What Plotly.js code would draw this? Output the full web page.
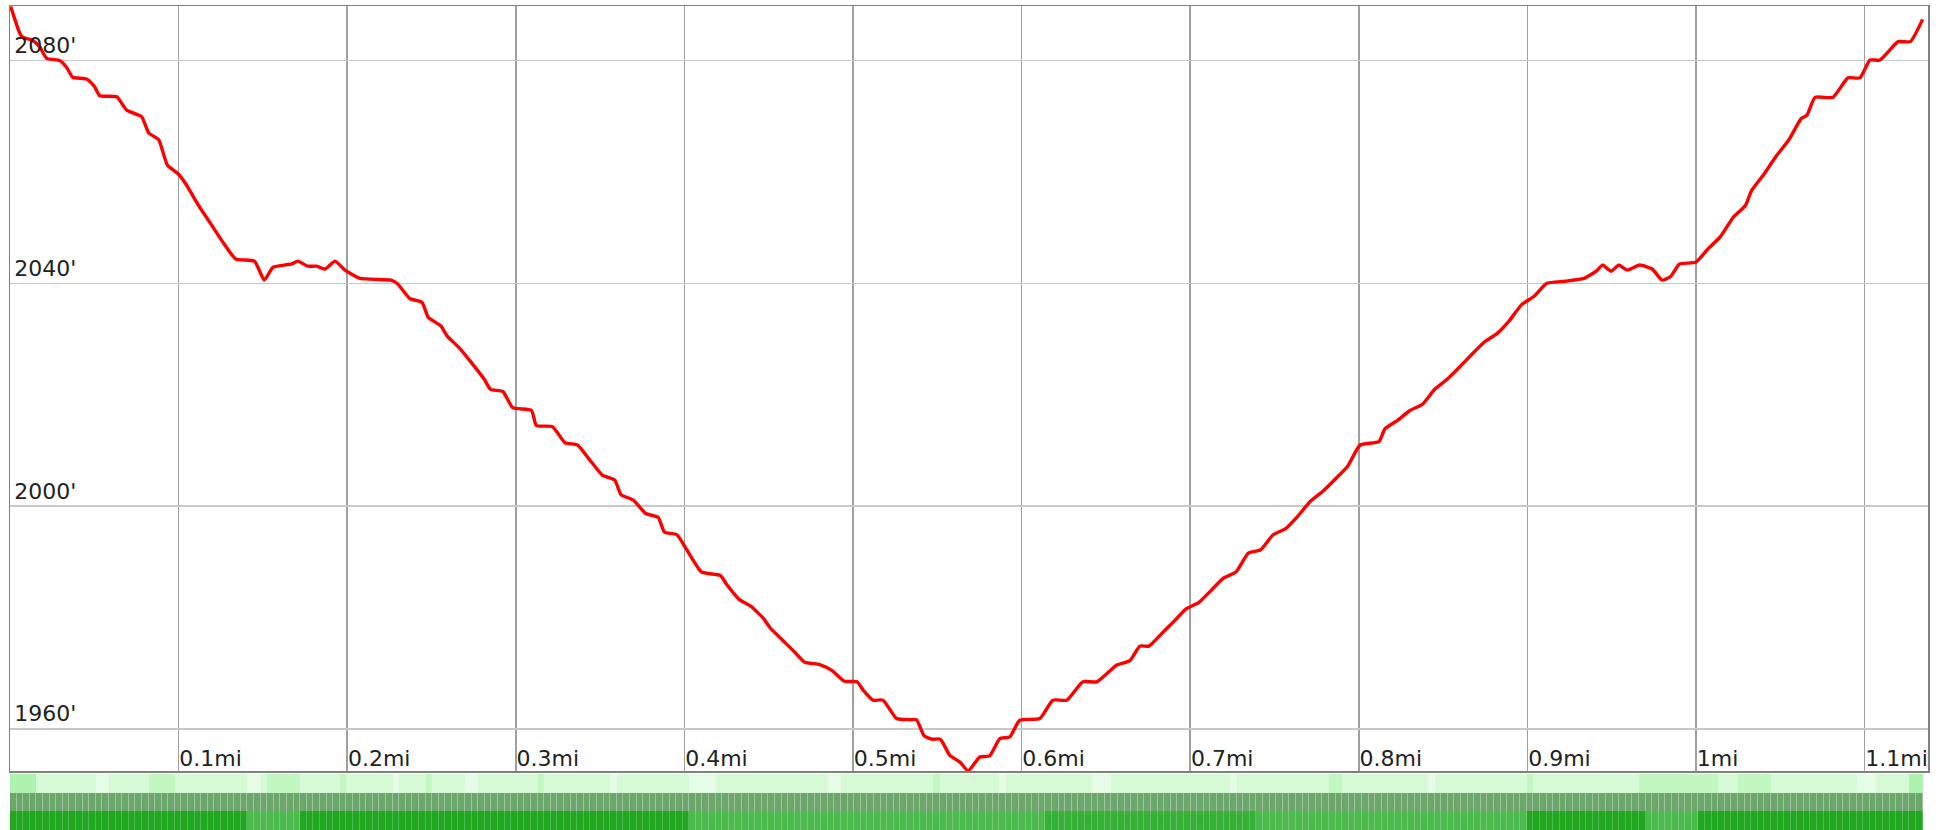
<!DOCTYPE html>
<html>
<head>
<meta charset="utf-8">
<script src="https://cdn.plot.ly/plotly-3.0.1.min.js"></script>
<style>
  html, body { margin: 0; padding: 0; background: #ffffff; }
  #chart { width: 1948px; height: 830px; }
</style>
</head>
<body>
<div id="chart"></div>
<script>
// ---------- Elevation profile (distance in miles, elevation in feet) ----------
const distMi = [
  0.0004, 0.0058, 0.0075, 0.0135, 0.0175, 0.0218, 0.0295, 0.0335, 0.0372, 0.0455,
  0.0500, 0.0532, 0.0633, 0.0692, 0.0781, 0.0823, 0.0882, 0.0934, 0.1000, 0.1044,
  0.1118, 0.1191, 0.1265, 0.1339, 0.1450, 0.1508, 0.1560, 0.1671, 0.1707, 0.1766,
  0.1818, 0.1869, 0.1928, 0.1987, 0.2076, 0.2260, 0.2297, 0.2371, 0.2444, 0.2481,
  0.2555, 0.2592, 0.2666, 0.2739, 0.2813, 0.2850, 0.2923, 0.2982, 0.3093, 0.3122,
  0.3218, 0.3292, 0.3366, 0.3439, 0.3513, 0.3587, 0.3624, 0.3697, 0.3771, 0.3845,
  0.3881, 0.3955, 0.4014, 0.4102, 0.4213, 0.4250, 0.4324, 0.4397, 0.4471, 0.4508,
  0.4581, 0.4655, 0.4714, 0.4803, 0.4876, 0.4950, 0.5024, 0.5060, 0.5119, 0.5178,
  0.5258, 0.5336, 0.5376, 0.5422, 0.5468, 0.5518, 0.5574, 0.5634, 0.5683, 0.5752,
  0.5810, 0.5871, 0.5930, 0.5989, 0.6108, 0.6185, 0.6268, 0.6363, 0.6446, 0.6565,
  0.6642, 0.6701, 0.6755, 0.6829, 0.6902, 0.6976, 0.7050, 0.7124, 0.7197, 0.7271,
  0.7345, 0.7418, 0.7492, 0.7566, 0.7640, 0.7713, 0.7787, 0.7861, 0.7934, 0.8008,
  0.8119, 0.8155, 0.8229, 0.8303, 0.8377, 0.8450, 0.8524, 0.8598, 0.8671, 0.8745,
  0.8819, 0.8892, 0.8966, 0.9040, 0.9113, 0.9224, 0.9334, 0.9408, 0.9445, 0.9497,
  0.9541, 0.9593, 0.9666, 0.9740, 0.9799, 0.9851, 0.9902, 0.9998, 1.0071, 1.0145,
  1.0219, 1.0293, 1.0330, 1.0403, 1.0477, 1.0551, 1.0624, 1.0658, 1.0706, 1.0812,
  1.0901, 1.0972, 1.1032, 1.1091, 1.1199, 1.1271, 1.1344
];
const elevFt = [
  2089.7, 2084.9, 2084.2, 2083.6, 2082.5, 2080.4, 2080.0, 2078.8, 2077.0, 2076.7,
  2075.4, 2073.7, 2073.5, 2071.1, 2069.9, 2067.0, 2065.8, 2061.2, 2059.6, 2057.8,
  2054.0, 2050.7, 2047.3, 2044.4, 2044.0, 2040.6, 2042.9, 2043.5, 2044.0, 2043.1,
  2043.1, 2042.6, 2044.0, 2042.4, 2040.9, 2040.6, 2040.0, 2037.3, 2036.6, 2033.9,
  2032.4, 2030.6, 2028.4, 2025.7, 2022.8, 2021.0, 2020.6, 2017.7, 2017.2, 2014.5,
  2014.3, 2011.4, 2011.0, 2008.3, 2005.6, 2004.7, 2002.1, 2001.1, 1998.7, 1998.0,
  1995.4, 1994.9, 1992.2, 1988.2, 1987.6, 1986.0, 1983.3, 1982.0, 1979.8, 1978.2,
  1976.0, 1973.8, 1972.0, 1971.6, 1970.5, 1968.6, 1968.5, 1967.0, 1965.2, 1965.2,
  1961.9, 1961.7, 1961.7, 1958.8, 1958.2, 1958.2, 1955.3, 1954.1, 1952.5, 1955.0,
  1955.2, 1958.3, 1958.6, 1961.6, 1961.9, 1965.2, 1965.2, 1968.5, 1968.5, 1971.5,
  1972.3, 1974.9, 1974.9, 1977.1, 1979.3, 1981.6, 1982.7, 1984.9, 1987.1, 1988.2,
  1991.6, 1992.2, 1994.9, 1996.0, 1998.3, 2000.9, 2002.7, 2004.9, 2007.2, 2011.0,
  2011.6, 2013.9, 2015.4, 2017.2, 2018.3, 2021.0, 2022.8, 2025.0, 2027.3, 2029.5,
  2031.0, 2033.3, 2036.2, 2037.7, 2040.0, 2040.4, 2040.9, 2042.2, 2043.3, 2042.2,
  2043.3, 2042.4, 2043.3, 2042.6, 2040.6, 2041.3, 2043.5, 2043.8, 2046.2, 2048.4,
  2051.8, 2054.0, 2056.7, 2059.6, 2062.9, 2065.8, 2069.6, 2070.2, 2073.4, 2073.4,
  2076.9, 2076.9, 2080.1, 2080.1, 2083.4, 2083.4, 2087.4
];

// ---------- Axis ticks ----------
const xTickVals = [0.1, 0.2, 0.3, 0.4, 0.5, 0.6, 0.7, 0.8, 0.9, 1.0, 1.1];
const xTickText = ['0.1mi', '0.2mi', '0.3mi', '0.4mi', '0.5mi', '0.6mi', '0.7mi', '0.8mi', '0.9mi', '1mi', '1.1mi'];
const yTickVals = [1960, 2000, 2040, 2080];
const yTickText = ["1960'", "2000'", "2040'", "2080'"];

// ---------- Bottom strips (one level per sample segment) ----------
const stripEndMi = 1.1344;
// top strip: 0 = palest ... 3 = brightest light green
const stripTop = [
  3,3,3,3,1,1,1,1,1,1,1,1,1,0,0,1,1,1,1,1,
  1,2,2,2,2,1,1,1,1,1,1,1,1,1,1,1,0,0,1,2,
  2,2,2,2,1,1,1,1,1,1,2,1,1,1,1,1,1,1,0,1,
  1,1,1,2,1,1,1,1,1,0,0,1,1,1,1,1,1,1,1,1,
  2,1,1,1,1,1,1,1,1,1,1,0,1,1,1,1,1,1,1,1,
  1,1,1,0,0,0,0,1,1,1,1,1,1,1,1,1,1,1,1,1,
  1,1,1,1,0,0,1,1,1,1,1,1,1,1,1,1,1,1,1,1,
  2,1,1,1,1,1,1,1,1,1,0,1,1,1,1,1,1,1,1,1,
  1,1,1,1,0,0,0,1,1,1,1,1,1,1,1,1,1,1,1,1,
  1,1,1,1,1,0,1,1,1,1,1,1,1,1,1,1,1,1,1,1,
  2,2,1,1,1,1,1,1,1,1,1,1,1,1,1,0,1,1,1,1,
  1,1,1,1,1,1,1,1,1,1,2,1,1,1,1,1,1,1,1,1,
  1,1,1,1,1,1,1,2,2,2,2,2,2,2,2,2,2,2,2,1,
  1,1,2,2,2,2,2,1,1,1,1,1,1,1,1,1,1,1,1,1,
  0,0,0,1,1,1,1,1,3,3
];
// middle strip: single level throughout
const stripMid = [
  0,0,0,0,0,0,0,0,0,0,0,0,0,0,0,0,0,0,0,0,
  0,0,0,0,0,0,0,0,0,0,0,0,0,0,0,0,0,0,0,0,
  0,0,0,0,0,0,0,0,0,0,0,0,0,0,0,0,0,0,0,0,
  0,0,0,0,0,0,0,0,0,0,0,0,0,0,0,0,0,0,0,0,
  0,0,0,0,0,0,0,0,0,0,0,0,0,0,0,0,0,0,0,0,
  0,0,0,0,0,0,0,0,0,0,0,0,0,0,0,0,0,0,0,0,
  0,0,0,0,0,0,0,0,0,0,0,0,0,0,0,0,0,0,0,0,
  0,0,0,0,0,0,0,0,0,0,0,0,0,0,0,0,0,0,0,0,
  0,0,0,0,0,0,0,0,0,0,0,0,0,0,0,0,0,0,0,0,
  0,0,0,0,0,0,0,0,0,0,0,0,0,0,0,0,0,0,0,0,
  0,0,0,0,0,0,0,0,0,0,0,0,0,0,0,0,0,0,0,0,
  0,0,0,0,0,0,0,0,0,0,0,0,0,0,0,0,0,0,0,0,
  0,0,0,0,0,0,0,0,0,0,0,0,0,0,0,0,0,0,0,0,
  0,0,0,0,0,0,0,0,0,0,0,0,0,0,0,0,0,0,0,0,
  0,0,0,0,0,0,0,0,0,0
];
// bottom strip: 0 = light, 1 = medium, 2 = dark green
const stripBot = [
  2,2,2,2,2,2,2,2,2,2,2,2,2,2,2,2,2,2,2,2,
  2,2,2,2,2,2,2,2,2,2,2,2,2,2,2,2,0,0,0,0,
  0,0,0,0,2,2,2,2,2,2,2,2,2,2,2,2,2,2,2,2,
  2,2,2,2,2,2,2,2,2,2,2,2,2,2,2,2,2,2,2,2,
  2,2,2,2,2,2,2,2,2,2,2,2,2,2,2,2,2,2,2,2,
  2,2,2,0,0,0,0,0,0,0,0,0,0,0,0,0,0,0,0,0,
  0,0,0,0,0,0,0,0,0,0,0,0,0,0,0,0,0,0,0,0,
  0,0,0,0,0,0,0,0,0,0,0,0,0,0,0,0,0,1,1,1,
  1,1,1,1,1,1,1,1,1,1,1,1,1,1,1,1,1,1,1,1,
  1,1,1,1,1,1,1,1,1,0,0,0,0,0,0,0,0,0,0,0,
  0,0,0,0,0,0,0,0,0,0,0,0,0,0,0,0,0,0,0,0,
  0,0,0,0,0,0,0,0,0,0,2,2,2,2,2,2,2,2,2,2,
  2,2,2,2,2,2,2,2,0,0,0,0,0,0,0,0,2,2,2,2,
  2,2,2,2,2,2,2,2,2,2,2,2,2,2,2,2,2,2,2,2,
  2,2,2,2,2,2,2,2,2,2
];

// combine the three strips into one z grid on a shared 0..7 colour index
const nSeg = stripTop.length;
const segStep = stripEndMi / nSeg;
const zStrips = [
  stripTop.map(v => v),
  stripMid.map(v => 4 + v),
  stripBot.map(v => 5 + v)
];

const FONT = '"DejaVu Sans", Verdana, sans-serif';

const csTop = [
  [0, '#e6fce6'], [1/7, '#d6fad6'], [2/7, '#c2f7c2'], [3/7, '#adf3ad'],
  [4/7, '#6ba66b'], [5/7, '#4cba4c'], [6/7, '#37b037'], [1, '#20a820']
];
const csBase = [
  [0, '#e6fce6'], [1/7, '#d6fad6'], [2/7, '#c2f7c2'], [3/7, '#adf3ad'],
  [4/7, '#9cc59c'], [5/7, '#74ca74'], [6/7, '#60c060'], [1, '#4fba4f']
];

const traces = [
  {
    type: 'heatmap', x0: segStep / 2, dx: segStep, y0: 0, dy: 1, z: zStrips,
    xaxis: 'x', yaxis: 'y2', zmin: 0, zmax: 7, colorscale: csBase,
    showscale: false, zsmooth: false, hoverinfo: 'skip'
  },
  {
    type: 'heatmap', x0: segStep / 2, dx: segStep, y0: 0, dy: 1, z: zStrips,
    xaxis: 'x', yaxis: 'y2', zmin: 0, zmax: 7, colorscale: csTop, xgap: 1,
    showscale: false, zsmooth: false, hoverinfo: 'skip'
  },
  {
    type: 'scatter', mode: 'lines', x: distMi, y: elevFt,
    xaxis: 'x', yaxis: 'y',
    line: { color: '#ff0000', width: 3.4, shape: 'spline', smoothing: 0.5 },
    hoverinfo: 'x+y'
  }
];

const layout = {
  width: 1948, height: 830,
  margin: { l: 10, r: 20, t: 6, b: 0, pad: 0 },
  paper_bgcolor: '#ffffff', plot_bgcolor: '#ffffff',
  showlegend: false,
  font: { family: FONT, size: 22, color: '#222222' },
  xaxis: {
    range: [0, 1.1376], domain: [0, 1], anchor: 'y',
    tickmode: 'array', tickvals: xTickVals, ticktext: xTickText,
    ticks: '', ticklabelposition: 'inside right', ticklabelstandoff: -1,
    tickfont: { family: FONT, size: 22, color: '#222222' },
    showgrid: true, gridcolor: '#a0a0a0', gridwidth: 1.6,
    showline: true, linecolor: '#808080', linewidth: 1.5, mirror: true,
    zeroline: false, automargin: false, fixedrange: true
  },
  yaxis: {
    range: [1952.4, 2089.8], domain: [0.071, 1], anchor: 'x',
    tickmode: 'array', tickvals: yTickVals, ticktext: yTickText,
    ticks: '', ticklabelposition: 'inside top', ticklabelstandoff: 5,
    tickfont: { family: FONT, size: 22, color: '#222222' },
    showgrid: true, gridcolor: '#c8c8c8', gridwidth: 1.6,
    showline: true, linecolor: '#808080', linewidth: 1.5, mirror: true,
    zeroline: false, automargin: false, fixedrange: true
  },
  yaxis2: {
    domain: [0, 0.068], anchor: 'x', range: [2.5, -0.5],
    showticklabels: false, showgrid: false, zeroline: false, showline: false,
    ticks: '', fixedrange: true
  }
};

Plotly.newPlot('chart', traces, layout, { displayModeBar: false, staticPlot: true });
</script>
</body>
</html>
